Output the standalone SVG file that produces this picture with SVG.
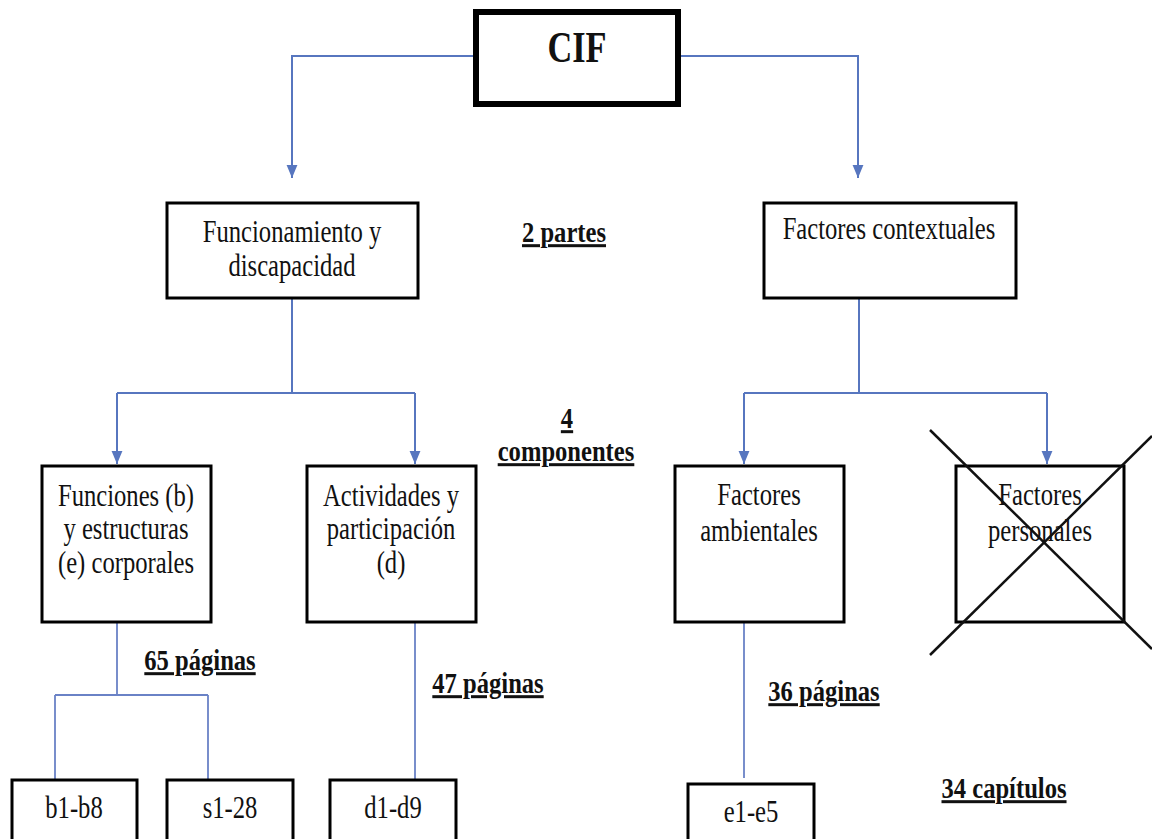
<svg xmlns="http://www.w3.org/2000/svg" width="1152" height="839" viewBox="0 0 1152 839">
<style>
.box{fill:#fff;stroke:#000;stroke-width:3}
.t{font-family:"Liberation Serif","Times New Roman",serif;font-size:32px;fill:#111;text-anchor:middle}
.b{font-family:"Liberation Serif","Times New Roman",serif;font-size:30px;font-weight:bold;fill:#111;text-anchor:middle;text-decoration:underline}
.c{fill:none;stroke:#5776bf;stroke-width:2}
.c2{fill:none;stroke:#6a82c6;stroke-width:1.8}
.x{stroke:#111;stroke-width:2.5}
</style>
<defs>
<marker id="ah" viewBox="0 0 12 10" markerWidth="13" markerHeight="12" refX="12" refY="5" orient="auto" markerUnits="userSpaceOnUse">
<path d="M0,0 L12,5 L0,10 z" fill="#5776bf"/>
</marker>
</defs>
<rect width="1152" height="839" fill="#fff"/>
<g id="connectors">
<path class="c" d="M476,56 H292 V178" marker-end="url(#ah)"/>
<path class="c" d="M678,56 H858 V178" marker-end="url(#ah)"/>
<path class="c" d="M292,298 V393"/>
<path class="c" d="M117,393 H415"/>
<path class="c" d="M117,393 V464" marker-end="url(#ah)"/>
<path class="c" d="M415,393 V464" marker-end="url(#ah)"/>
<path class="c" d="M859,298 V393"/>
<path class="c" d="M744,393 H1047"/>
<path class="c" d="M744,393 V464" marker-end="url(#ah)"/>
<path class="c" d="M1047,393 V464" marker-end="url(#ah)"/>
<path class="c2" d="M117,622 V695 M55,695 H208 M55,695 V780 M208,695 V780"/>
<path class="c2" d="M415,622 V780"/>
<path class="c2" d="M744,622 V778"/>
</g>
<g id="cif">
<rect x="476" y="12" width="202" height="92" fill="#fff" stroke="#000" stroke-width="6"/>
<text class="t" transform="translate(577,62) scale(0.78,1)" style="font-size:44px;font-weight:bold">CIF</text>
</g>
<g id="funcionamiento">
<rect class="box" x="167" y="203" width="251" height="95"/>
<text class="t" transform="translate(292,242) scale(0.77,1)">Funcionamiento y</text>
<text class="t" transform="translate(292,276) scale(0.77,1)">discapacidad</text>
</g>
<g id="contextuales">
<rect class="box" x="764" y="203" width="252" height="95"/>
<text class="t" transform="translate(889,239) scale(0.77,1)">Factores contextuales</text>
</g>
<g id="funciones">
<rect class="box" x="42" y="466" width="169" height="156"/>
<text class="t" transform="translate(126,506) scale(0.77,1)">Funciones (b)</text>
<text class="t" transform="translate(126,539) scale(0.77,1)">y estructuras</text>
<text class="t" transform="translate(126,573) scale(0.77,1)">(e) corporales</text>
</g>
<g id="actividades">
<rect class="box" x="307" y="466" width="169" height="156"/>
<text class="t" transform="translate(391,506) scale(0.77,1)">Actividades y</text>
<text class="t" transform="translate(391,539) scale(0.77,1)">participación</text>
<text class="t" transform="translate(391,573) scale(0.77,1)">(d)</text>
</g>
<g id="ambientales">
<rect class="box" x="675" y="466" width="169" height="156"/>
<text class="t" transform="translate(759,505) scale(0.77,1)">Factores</text>
<text class="t" transform="translate(759,541) scale(0.77,1)">ambientales</text>
</g>
<g id="personales">
<rect class="box" x="956" y="466" width="168" height="156"/>
<text class="t" transform="translate(1040,505) scale(0.77,1)">Factores</text>
<text class="t" transform="translate(1040,541) scale(0.77,1)">personales</text>
<line class="x" x1="930" y1="430" x2="1152" y2="649"/>
<line class="x" x1="930" y1="655" x2="1152" y2="436"/>
</g>
<g id="b1b8">
<rect class="box" x="12" y="780" width="125" height="80"/>
<text class="t" transform="translate(74,818) scale(0.77,1)">b1-b8</text>
</g>
<g id="s128">
<rect class="box" x="167" y="780" width="126" height="80"/>
<text class="t" transform="translate(230,818) scale(0.77,1)">s1-28</text>
</g>
<g id="d1d9">
<rect class="box" x="330" y="780" width="126" height="80"/>
<text class="t" transform="translate(393,818) scale(0.77,1)">d1-d9</text>
</g>
<g id="e1e5">
<rect class="box" x="688" y="784" width="126" height="80"/>
<text class="t" transform="translate(751,822) scale(0.77,1)">e1-e5</text>
</g>
<g id="labels">
<text class="b" transform="translate(564,242) scale(0.82,1)">2 partes</text>
<text class="b" transform="translate(567,428) scale(0.82,1)">4</text>
<text class="b" transform="translate(566,461) scale(0.82,1)">componentes</text>
<text class="b" transform="translate(200,670) scale(0.82,1)">65 páginas</text>
<text class="b" transform="translate(488,693) scale(0.82,1)">47 páginas</text>
<text class="b" transform="translate(824,701) scale(0.82,1)">36 páginas</text>
<text class="b" transform="translate(1004,798) scale(0.82,1)">34 capítulos</text>
</g>
</svg>
